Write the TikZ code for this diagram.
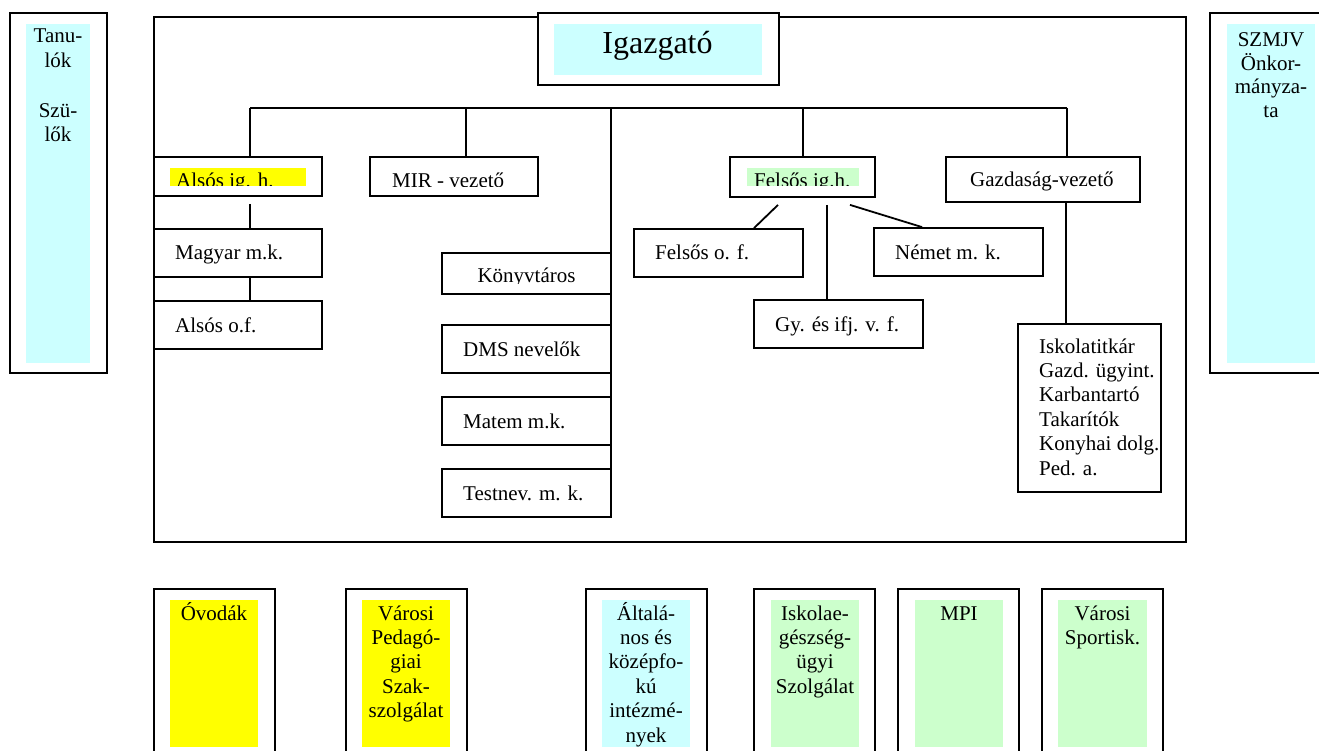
\documentclass[tikz,border=0pt]{standalone}
\usepackage{fontspec}
\setmainfont{Liberation Serif}
\definecolor{lcyan}{HTML}{CCFFFF}
\definecolor{lgreen}{HTML}{CCFFCC}
\definecolor{lyellow}{HTML}{FFFF00}
\newcommand\mybox[5]{\node[box, minimum width={#4-#2}, minimum height={#5-#3}] (#1) at ({(#2+#4)/2},{(#3+#5)/2}) {};}
\begin{document}
\begin{tikzpicture}[x=1pt,y=-1pt,
  box/.style={draw=black,line width=1.8pt,fill=white,inner sep=0pt,rectangle},
  conn/.style={draw=black,line width=1.8pt},
  lbl/.style={inner sep=0pt,font=\fontsize{21}{24.4}\selectfont},
  lbltight/.style={inner sep=0pt,font=\fontsize{21}{23.4}\selectfont},
  big/.style={inner sep=0pt,font=\fontsize{32}{36}\selectfont}]
\useasboundingbox (0,0) rectangle (1319,751);
\clip (0,0) rectangle (1319,751);

% left side box
\mybox{leftbox}{10}{13}{107}{373}
\fill[lcyan] (26,24) rectangle (90,363);
\node[lbl,anchor=base,align=center] (tanu) at (58,67.4) {Tanu-\\lók};
\node[lbl,anchor=base,align=center] (szulo) at (58,141.9) {Szü-\\lők};

% right side box
\mybox{rightbox}{1210}{13}{1331}{373}
\fill[lcyan] (1227,24) rectangle (1315,363);
\node[lbltight,anchor=base,align=center] (szmjv) at (1271,117.2) {SZMJV\\Önkor-\\mányza-\\ta};

% main frame
\mybox{main}{154}{17}{1186}{542}

% director
\mybox{igaz}{538}{13}{779}{85}
\fill[lcyan] (554,24) rectangle (762,75);
\node[big,anchor=base] (igaztxt) at (657.5,54) {Igazgató};

% first level boxes
\mybox{alsos}{154}{157}{322}{196}
\fill[lyellow] (170,168) rectangle (306,186);
\begin{scope}
\clip (160,160) rectangle (316,186);
\node[lbl,anchor=base west] (alsostxt) at (176,188) {Alsós ig. h.};
\end{scope}

\mybox{mir}{370}{157}{538}{196}
\begin{scope}
\clip (375,160) rectangle (530,187);
\node[lbl,anchor=base west] (mirtxt) at (392,188) {MIR - vezető};
\end{scope}

\mybox{felsig}{730}{157}{875}{197}
\fill[lgreen] (747,168) rectangle (859,186);
\begin{scope}
\clip (740,160) rectangle (868,186);
\node[lbl,anchor=base west] (felsigtxt) at (754,188) {Felsős ig.h.};
\end{scope}

\mybox{gazd}{946}{157}{1140}{202}
\node[lbl,anchor=base west] (gazdtxt) at (970,187) {Gazdaság-vezető};

% lower side
\mybox{magyar}{154}{229}{322}{277}
\node[lbl,anchor=base west] (magyartxt) at (175,259) {Magyar m.k.};
\mybox{alsosof}{154}{301}{322}{349}
\node[lbl,anchor=base west] (alsosoftxt) at (175,332) {Alsós o.f.};

\mybox{konyv}{442}{253}{611}{294}
\begin{scope}
\clip (445,256) rectangle (608,283);
\node[lbl,anchor=base] (konyvtxt) at (526.5,282) {Könyvtáros};
\end{scope}
\mybox{dms}{442}{325}{611}{373}
\node[lbl,anchor=base west] (dmstxt) at (463,356) {DMS nevelők};
\mybox{matem}{442}{397}{611}{445}
\node[lbl,anchor=base west] (matemtxt) at (463,428) {Matem m.k.};
\mybox{testnev}{442}{469}{611}{517}
\node[lbl,anchor=base west] (testnevtxt) at (463,500) {Testnev. m. k.};

\mybox{felsof}{634}{229}{803}{277}
\node[lbl,anchor=base west] (felsoftxt) at (655,259) {Felsős o. f.};
\mybox{nemet}{874}{228}{1043}{276}
\node[lbl,anchor=base west] (nemettxt) at (895,259) {Német m. k.};
\mybox{gy}{754}{300}{923}{348}
\node[lbl,anchor=base west] (gytxt) at (775,331) {Gy. és ifj. v. f.};

\mybox{iskola}{1018}{324}{1161}{492}
\node[lbl,anchor=base west,align=left] (iskolatxt) at (1039,475) {Iskolatitkár\\Gazd. ügyint.\\Karbantartó\\Takarítók\\Konyhai dolg.\\Ped. a.};

% connectors
\coordinate (dA) at (250,108);
\coordinate (dM) at (466,108);
\coordinate (dK) at (611,108);
\coordinate (dF) at (803,108);
\coordinate (dG) at (1067,108);
\draw[conn] (dA) -- (dG);
\draw[conn] (dA) -- (dA |- alsos.north);
\draw[conn] (dM) -- (dM |- mir.north);
\draw[conn] (dK) -- (dK |- testnev.north);
\draw[conn] (dF) -- (dF |- felsig.north);
\draw[conn] (dG) -- (dG |- gazd.north);
\draw[conn,shorten <=7pt] (dA |- alsos.south) -- (dA |- magyar.north);
\draw[conn] (dA |- magyar.south) -- (dA |- alsosof.north);
\draw[conn] ([xshift=-24.5pt,yshift=-7pt]felsig.south) -- ([xshift=35.5pt]felsof.north);
\draw[conn] ([xshift=24.5pt,yshift=-7pt]felsig.south) -- ([xshift=-11.5pt]gy.north);
\draw[conn] ([xshift=47.5pt,yshift=-7pt]felsig.south) -- ([xshift=-36.5pt]nemet.north);
\coordinate (gz) at ([xshift=23pt]gazd.south);
\draw[conn] (gz) -- (gz |- iskola.north);

% bottom boxes
\mybox{ovi}{154}{589}{275}{775}
\fill[lyellow] (170,600) rectangle (258,747);
\node[lbl,anchor=base,align=center] (ovitxt) at (214,620) {Óvodák};

\mybox{vped}{346}{589}{467}{775}
\fill[lyellow] (362,600) rectangle (450,747);
\node[lbl,anchor=base,align=center] (vpedtxt) at (406,717.6) {Városi\\Pedagó-\\giai\\Szak-\\szolgálat};

\mybox{alt}{586}{589}{707}{775}
\fill[lcyan] (602,600) rectangle (690,747);
\node[lbl,anchor=base,align=center] (alttxt) at (646,742) {Általá-\\nos és\\középfo-\\kú\\intézmé-\\nyek};

\mybox{eu}{754}{589}{875}{775}
\fill[lgreen] (771,600) rectangle (859,747);
\node[lbl,anchor=base,align=center] (eutxt) at (815,693.2) {Iskolae-\\gészség-\\ügyi\\Szolgálat};

\mybox{mpi}{898}{589}{1019}{775}
\fill[lgreen] (915,600) rectangle (1003,747);
\node[lbl,anchor=base,align=center] (mpitxt) at (959,620) {MPI};

\mybox{sport}{1042}{589}{1163}{775}
\fill[lgreen] (1058,600) rectangle (1147,747);
\node[lbl,anchor=base,align=center] (sporttxt) at (1102.5,644.4) {Városi\\Sportisk.};
\end{tikzpicture}
\end{document}
